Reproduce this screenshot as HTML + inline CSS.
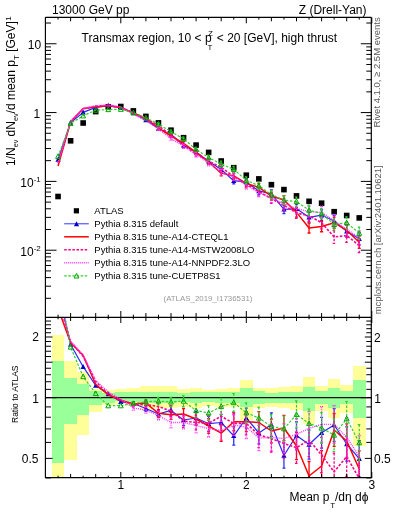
<!DOCTYPE html><html><head><meta charset="utf-8"><style>html,body{margin:0;padding:0;background:#fff;width:393px;height:512px;overflow:hidden}svg{display:block;will-change:transform}text{font-family:"Liberation Sans",sans-serif}</style></head><body>
<svg width="393" height="512" viewBox="0 0 393 512">
<g shape-rendering="crispEdges">
<rect x="51.77" y="335" width="12.55" height="143" fill="#ffff99"/>
<rect x="64.32" y="361.1" width="12.55" height="98.8" fill="#ffff99"/>
<rect x="76.87" y="372" width="12.55" height="62.7" fill="#ffff99"/>
<rect x="89.42" y="388.8" width="12.55" height="22.9" fill="#ffff99"/>
<rect x="101.97" y="390.4" width="12.55" height="14.7" fill="#ffff99"/>
<rect x="114.52" y="388.5" width="12.55" height="15.9" fill="#ffff99"/>
<rect x="127.08" y="387.6" width="12.55" height="18.4" fill="#ffff99"/>
<rect x="139.62" y="386" width="12.55" height="24" fill="#ffff99"/>
<rect x="152.18" y="386.4" width="12.55" height="21.9" fill="#ffff99"/>
<rect x="164.72" y="386" width="12.55" height="22" fill="#ffff99"/>
<rect x="177.27" y="388.7" width="12.55" height="18.7" fill="#ffff99"/>
<rect x="189.82" y="387.8" width="12.55" height="19.7" fill="#ffff99"/>
<rect x="202.38" y="390" width="12.55" height="15.6" fill="#ffff99"/>
<rect x="214.93" y="388.7" width="12.55" height="17.8" fill="#ffff99"/>
<rect x="227.47" y="387.8" width="12.55" height="19.6" fill="#ffff99"/>
<rect x="240.02" y="379.8" width="12.55" height="40.1" fill="#ffff99"/>
<rect x="252.58" y="387.8" width="12.55" height="20.5" fill="#ffff99"/>
<rect x="265.13" y="387.6" width="12.55" height="19.4" fill="#ffff99"/>
<rect x="277.68" y="387" width="12.55" height="21.4" fill="#ffff99"/>
<rect x="290.23" y="386.2" width="12.55" height="23.7" fill="#ffff99"/>
<rect x="302.78" y="377.1" width="12.55" height="47" fill="#ffff99"/>
<rect x="315.33" y="386.2" width="12.55" height="25.1" fill="#ffff99"/>
<rect x="327.88" y="379.4" width="12.55" height="39" fill="#ffff99"/>
<rect x="340.43" y="385.1" width="12.55" height="27.6" fill="#ffff99"/>
<rect x="352.98" y="366.3" width="12.55" height="79.2" fill="#ffff99"/>
<rect x="51.77" y="360.6" width="12.55" height="102" fill="#99ff99"/>
<rect x="64.32" y="377.5" width="12.55" height="46.4" fill="#99ff99"/>
<rect x="76.87" y="383.5" width="12.55" height="31" fill="#99ff99"/>
<rect x="89.42" y="391.4" width="12.55" height="13.2" fill="#99ff99"/>
<rect x="101.97" y="392.9" width="12.55" height="9.7" fill="#99ff99"/>
<rect x="114.52" y="392" width="12.55" height="9" fill="#99ff99"/>
<rect x="127.08" y="392" width="12.55" height="10" fill="#99ff99"/>
<rect x="139.62" y="392.3" width="12.55" height="10.7" fill="#99ff99"/>
<rect x="152.18" y="392.3" width="12.55" height="10.7" fill="#99ff99"/>
<rect x="164.72" y="392.3" width="12.55" height="10.7" fill="#99ff99"/>
<rect x="177.27" y="393.2" width="12.55" height="8.8" fill="#99ff99"/>
<rect x="189.82" y="392.3" width="12.55" height="10.2" fill="#99ff99"/>
<rect x="202.38" y="392.3" width="12.55" height="9.7" fill="#99ff99"/>
<rect x="214.93" y="392.3" width="12.55" height="10.7" fill="#99ff99"/>
<rect x="227.47" y="392.3" width="12.55" height="10.7" fill="#99ff99"/>
<rect x="240.02" y="387.8" width="12.55" height="19.6" fill="#99ff99"/>
<rect x="252.58" y="391.4" width="12.55" height="12.4" fill="#99ff99"/>
<rect x="265.13" y="392.8" width="12.55" height="9.9" fill="#99ff99"/>
<rect x="277.68" y="392.2" width="12.55" height="10.5" fill="#99ff99"/>
<rect x="290.23" y="391.9" width="12.55" height="10.8" fill="#99ff99"/>
<rect x="302.78" y="387" width="12.55" height="24.3" fill="#99ff99"/>
<rect x="315.33" y="391.3" width="12.55" height="12.9" fill="#99ff99"/>
<rect x="327.88" y="387.6" width="12.55" height="20.8" fill="#99ff99"/>
<rect x="340.43" y="390.8" width="12.55" height="13.4" fill="#99ff99"/>
<rect x="352.98" y="380" width="12.55" height="38.4" fill="#99ff99"/>
</g>
<line x1="45.5" y1="397.7" x2="371.8" y2="397.7" stroke="#111" stroke-width="1.3"/>
<clipPath id="cr"><rect x="45.5" y="317.0" width="326.3" height="161.0"/></clipPath>
<clipPath id="cm"><rect x="45.5" y="17.3" width="326.3" height="299.7"/></clipPath>
<g clip-path="url(#cr)">
<path d="M133.35,401.6V405.4M131.85,401.6h3M131.85,405.4h3M145.9,405.7V411.3M144.4,405.7h3M144.4,411.3h3M158.45,410.3V417.7M156.95,410.3h3M156.95,417.7h3M171,405.8V415M169.5,405.8h3M169.5,415h3M183.55,414.5V425.5M182.05,414.5h3M182.05,425.5h3M196.1,411.6V424.4M194.6,411.6h3M194.6,424.4h3M208.65,416.4V431M207.15,416.4h3M207.15,431h3M221.2,414.3V430.7M219.7,414.3h3M219.7,430.7h3M233.75,426.8V445M232.25,426.8h3M232.25,445h3M246.3,408V428M244.8,408h3M244.8,428h3M258.85,422.1V443.9M257.35,422.1h3M257.35,443.9h3M271.4,412.8V436.4M269.9,412.8h3M269.9,436.4h3M283.95,442.8V468.2M282.45,442.8h3M282.45,468.2h3M296.5,421.9V449.1M295,421.9h3M295,449.1h3M309.05,430V459M307.55,430h3M307.55,459h3M321.6,417.4V448.2M320.1,417.4h3M320.1,448.2h3M334.15,408.7V441.3M332.65,408.7h3M332.65,441.3h3M346.7,426.8V461.2M345.2,426.8h3M345.2,461.2h3M359.25,440.6V476.8M357.75,440.6h3M357.75,476.8h3" fill="none" stroke="#2a2aff" stroke-width="1.25"/>
<polyline points="58.05,289.31 70.6,344.5 83.15,366.7 95.7,385.5 108.25,394 120.8,401.8 133.35,403.5 145.9,408.5 158.45,414 171,410.4 183.55,420 196.1,418 208.65,423.7 221.2,422.5 233.75,435.9 246.3,418 258.85,433 271.4,424.6 283.95,455.5 296.5,435.5 309.05,444.5 321.6,432.8 334.15,425 346.7,444 359.25,458.7" fill="none" stroke="#2a2aff" stroke-width="1.25" stroke-linejoin="round"/>
<path d="M55.45,291.51L58.05,286.51L60.65,291.51Z" fill="#0000cc"/>
<path d="M68,346.7L70.6,341.7L73.2,346.7Z" fill="#0000cc"/>
<path d="M80.55,368.9L83.15,363.9L85.75,368.9Z" fill="#0000cc"/>
<path d="M93.1,387.7L95.7,382.7L98.3,387.7Z" fill="#0000cc"/>
<path d="M105.65,396.2L108.25,391.2L110.85,396.2Z" fill="#0000cc"/>
<path d="M118.2,404L120.8,399L123.4,404Z" fill="#0000cc"/>
<path d="M130.75,405.7L133.35,400.7L135.95,405.7Z" fill="#0000cc"/>
<path d="M143.3,410.7L145.9,405.7L148.5,410.7Z" fill="#0000cc"/>
<path d="M155.85,416.2L158.45,411.2L161.05,416.2Z" fill="#0000cc"/>
<path d="M168.4,412.6L171,407.6L173.6,412.6Z" fill="#0000cc"/>
<path d="M180.95,422.2L183.55,417.2L186.15,422.2Z" fill="#0000cc"/>
<path d="M193.5,420.2L196.1,415.2L198.7,420.2Z" fill="#0000cc"/>
<path d="M206.05,425.9L208.65,420.9L211.25,425.9Z" fill="#0000cc"/>
<path d="M218.6,424.7L221.2,419.7L223.8,424.7Z" fill="#0000cc"/>
<path d="M231.15,438.1L233.75,433.1L236.35,438.1Z" fill="#0000cc"/>
<path d="M243.7,420.2L246.3,415.2L248.9,420.2Z" fill="#0000cc"/>
<path d="M256.25,435.2L258.85,430.2L261.45,435.2Z" fill="#0000cc"/>
<path d="M268.8,426.8L271.4,421.8L274,426.8Z" fill="#0000cc"/>
<path d="M281.35,457.7L283.95,452.7L286.55,457.7Z" fill="#0000cc"/>
<path d="M293.9,437.7L296.5,432.7L299.1,437.7Z" fill="#0000cc"/>
<path d="M306.45,446.7L309.05,441.7L311.65,446.7Z" fill="#0000cc"/>
<path d="M319,435L321.6,430L324.2,435Z" fill="#0000cc"/>
<path d="M331.55,427.2L334.15,422.2L336.75,427.2Z" fill="#0000cc"/>
<path d="M344.1,446.2L346.7,441.2L349.3,446.2Z" fill="#0000cc"/>
<path d="M356.65,460.9L359.25,455.9L361.85,460.9Z" fill="#0000cc"/>
<path d="M133.35,402.1V405.9M131.85,402.1h3M131.85,405.9h3M145.9,400.2V405.8M144.4,400.2h3M144.4,405.8h3M158.45,409.6V417M156.95,409.6h3M156.95,417h3M171,410.1V419.3M169.5,410.1h3M169.5,419.3h3M183.55,408.5V419.5M182.05,408.5h3M182.05,419.5h3M196.1,412.6V425.4M194.6,412.6h3M194.6,425.4h3M208.65,418.7V433.3M207.15,418.7h3M207.15,433.3h3M221.2,425V441.4M219.7,425h3M219.7,441.4h3M233.75,412.6V430.8M232.25,412.6h3M232.25,430.8h3M246.3,411.7V431.7M244.8,411.7h3M244.8,431.7h3M258.85,411.6V433.4M257.35,411.6h3M257.35,433.4h3M271.4,419.2V442.8M269.9,419.2h3M269.9,442.8h3M283.95,415.3V440.7M282.45,415.3h3M282.45,440.7h3M296.5,432.4V459.6M295,432.4h3M295,459.6h3M309.05,461.5V490.5M307.55,461.5h3M307.55,490.5h3M321.6,450.6V481.4M320.1,450.6h3M320.1,481.4h3M334.15,413.7V446.3M332.65,413.7h3M332.65,446.3h3M346.7,423.8V458.2M345.2,423.8h3M345.2,458.2h3M359.25,450.9V487.1M357.75,450.9h3M357.75,487.1h3" fill="none" stroke="#ff0000" stroke-width="1.3"/>
<polyline points="58.05,308.35 70.6,342.8 83.15,355.3 95.7,384.5 108.25,394.7 120.8,400.3 133.35,404 145.9,403 158.45,413.3 171,414.7 183.55,414 196.1,419 208.65,426 221.2,433.2 233.75,421.7 246.3,421.7 258.85,422.5 271.4,431 283.95,428 296.5,446 309.05,476 321.6,466 334.15,430 346.7,441 359.25,469" fill="none" stroke="#ff0000" stroke-width="1.5" stroke-linejoin="round"/>
<path d="M133.35,402.62V406.99M131.85,402.62h3M131.85,406.99h3M145.9,401.28V407.72M144.4,401.28h3M144.4,407.72h3M158.45,402.25V410.75M156.95,402.25h3M156.95,410.75h3M171,405.71V416.29M169.5,405.71h3M169.5,416.29h3M183.55,414.68V427.32M182.05,414.68h3M182.05,427.32h3M196.1,415.14V429.86M194.6,415.14h3M194.6,429.86h3M208.65,414.81V431.59M207.15,414.81h3M207.15,431.59h3M221.2,406.87V425.73M219.7,406.87h3M219.7,425.73h3M233.75,412.94V433.86M232.25,412.94h3M232.25,433.86h3M246.3,411.9V434.9M244.8,411.9h3M244.8,434.9h3M258.85,422.46V447.54M257.35,422.46h3M257.35,447.54h3M271.4,424.93V452.07M269.9,424.93h3M269.9,452.07h3M283.95,429V458.21M282.45,429h3M282.45,458.21h3M296.5,432.06V463.34M295,432.06h3M295,463.34h3M309.05,423.32V456.68M307.55,423.32h3M307.55,456.68h3M321.6,437.29V472.71M320.1,437.29h3M320.1,472.71h3M334.15,453.06V490.55M332.65,453.06h3M332.65,490.55h3M346.7,436.72V476.28M345.2,436.72h3M345.2,476.28h3M359.25,457.79V499.42M357.75,457.79h3M357.75,499.42h3" fill="none" stroke="#ff0088" stroke-width="1.3" stroke-dasharray="2.5,1.6"/>
<polyline points="58.05,299.57 70.6,342 83.15,356.5 95.7,381.5 108.25,394 120.8,400.2 133.35,404.8 145.9,404.5 158.45,406.5 171,411 183.55,421 196.1,422.5 208.65,423.2 221.2,416.3 233.75,423.4 246.3,423.4 258.85,435 271.4,438.5 283.95,443.6 296.5,447.7 309.05,440 321.6,455 334.15,471.8 346.7,456.5 359.25,478.6" fill="none" stroke="#ff0088" stroke-width="1.6" stroke-dasharray="2.5,1.6" stroke-linejoin="round"/>
<path d="M133.35,405.81V410.19M131.85,405.81h3M131.85,410.19h3M145.9,406.78V413.22M144.4,406.78h3M144.4,413.22h3M158.45,411.25V419.75M156.95,411.25h3M156.95,419.75h3M171,417.21V427.79M169.5,417.21h3M169.5,427.79h3M183.55,416.18V428.82M182.05,416.18h3M182.05,428.82h3M196.1,418.14V432.86M194.6,418.14h3M194.6,432.86h3M208.65,420.21V437M207.15,420.21h3M207.15,437h3M221.2,421.17V440.03M219.7,421.17h3M219.7,440.03h3M233.75,414.74V435.66M232.25,414.74h3M232.25,435.66h3M246.3,415.5V438.5M244.8,415.5h3M244.8,438.5h3M258.85,425.46V450.54M257.35,425.46h3M257.35,450.54h3M271.4,423.93V451.07M269.9,423.93h3M269.9,451.07h3M283.95,423.89V453.11M282.45,423.89h3M282.45,453.11h3M296.5,418.76V450.04M295,418.76h3M295,450.04h3M309.05,411.62V444.98M307.55,411.62h3M307.55,444.98h3M321.6,406.69V442.11M320.1,406.69h3M320.1,442.11h3M334.15,405.65V443.14M332.65,405.65h3M332.65,443.14h3M346.7,417.62V457.18M345.2,417.62h3M345.2,457.18h3M359.25,435.69V477.31M357.75,435.69h3M357.75,477.31h3" fill="none" stroke="#ff33ff" stroke-width="1.3" stroke-dasharray="1,1"/>
<polyline points="58.05,299.57 70.6,341 83.15,355 95.7,380.5 108.25,392 120.8,399 133.35,408 145.9,410 158.45,415.5 171,422.5 183.55,422.5 196.1,425.5 208.65,428.6 221.2,430.6 233.75,425.2 246.3,427 258.85,438 271.4,437.5 283.95,438.5 296.5,434.4 309.05,428.3 321.6,424.4 334.15,424.4 346.7,437.4 359.25,456.5" fill="none" stroke="#ff33ff" stroke-width="1.4" stroke-dasharray="1,1" stroke-linejoin="round"/>
<path d="M133.35,401.6V405.4M131.85,401.6h3M131.85,405.4h3M145.9,399V404.6M144.4,399h3M144.4,404.6h3M158.45,397.4V404.8M156.95,397.4h3M156.95,404.8h3M171,397.4V406.6M169.5,397.4h3M169.5,406.6h3M183.55,395.6V406.6M182.05,395.6h3M182.05,406.6h3M196.1,404.1V416.9M194.6,404.1h3M194.6,416.9h3M208.65,405.7V420.3M207.15,405.7h3M207.15,420.3h3M221.2,398.3V414.7M219.7,398.3h3M219.7,414.7h3M233.75,393.5V411.7M232.25,393.5h3M232.25,411.7h3M246.3,402.8V422.8M244.8,402.8h3M244.8,422.8h3M258.85,407.1V428.9M257.35,407.1h3M257.35,428.9h3M271.4,414.7V438.3M269.9,414.7h3M269.9,438.3h3M283.95,416V441.4M282.45,416h3M282.45,441.4h3M296.5,400.9V428.1M295,400.9h3M295,428.1h3M309.05,409V438M307.55,409h3M307.55,438h3M321.6,412.6V443.4M320.1,412.6h3M320.1,443.4h3M334.15,418.8V451.4M332.65,418.8h3M332.65,451.4h3M346.7,401.5V435.9M345.2,401.5h3M345.2,435.9h3M359.25,424.6V460.8M357.75,424.6h3M357.75,460.8h3" fill="none" stroke="#33cc33" stroke-width="1.2" stroke-dasharray="2.5,1.6"/>
<polyline points="58.05,279.94 70.6,347 83.15,376.6 95.7,393.5 108.25,405.7 120.8,405.7 133.35,403.5 145.9,401.8 158.45,401.1 171,402 183.55,401.1 196.1,410.5 208.65,413 221.2,406.5 233.75,402.6 246.3,412.8 258.85,418 271.4,426.5 283.95,428.7 296.5,414.5 309.05,423.5 321.6,428 334.15,435.1 346.7,418.7 359.25,442.7" fill="none" stroke="#33cc33" stroke-width="1.2" stroke-dasharray="2.5,1.6" stroke-linejoin="round"/>
<path d="M55.65,282.04L58.05,277.34L60.45,282.04Z" fill="none" stroke="#00aa00" stroke-width="1"/>
<path d="M68.2,349.1L70.6,344.4L73,349.1Z" fill="none" stroke="#00aa00" stroke-width="1"/>
<path d="M80.75,378.7L83.15,374L85.55,378.7Z" fill="none" stroke="#00aa00" stroke-width="1"/>
<path d="M93.3,395.6L95.7,390.9L98.1,395.6Z" fill="none" stroke="#00aa00" stroke-width="1"/>
<path d="M105.85,407.8L108.25,403.1L110.65,407.8Z" fill="none" stroke="#00aa00" stroke-width="1"/>
<path d="M118.4,407.8L120.8,403.1L123.2,407.8Z" fill="none" stroke="#00aa00" stroke-width="1"/>
<path d="M130.95,405.6L133.35,400.9L135.75,405.6Z" fill="none" stroke="#00aa00" stroke-width="1"/>
<path d="M143.5,403.9L145.9,399.2L148.3,403.9Z" fill="none" stroke="#00aa00" stroke-width="1"/>
<path d="M156.05,403.2L158.45,398.5L160.85,403.2Z" fill="none" stroke="#00aa00" stroke-width="1"/>
<path d="M168.6,404.1L171,399.4L173.4,404.1Z" fill="none" stroke="#00aa00" stroke-width="1"/>
<path d="M181.15,403.2L183.55,398.5L185.95,403.2Z" fill="none" stroke="#00aa00" stroke-width="1"/>
<path d="M193.7,412.6L196.1,407.9L198.5,412.6Z" fill="none" stroke="#00aa00" stroke-width="1"/>
<path d="M206.25,415.1L208.65,410.4L211.05,415.1Z" fill="none" stroke="#00aa00" stroke-width="1"/>
<path d="M218.8,408.6L221.2,403.9L223.6,408.6Z" fill="none" stroke="#00aa00" stroke-width="1"/>
<path d="M231.35,404.7L233.75,400L236.15,404.7Z" fill="none" stroke="#00aa00" stroke-width="1"/>
<path d="M243.9,414.9L246.3,410.2L248.7,414.9Z" fill="none" stroke="#00aa00" stroke-width="1"/>
<path d="M256.45,420.1L258.85,415.4L261.25,420.1Z" fill="none" stroke="#00aa00" stroke-width="1"/>
<path d="M269,428.6L271.4,423.9L273.8,428.6Z" fill="none" stroke="#00aa00" stroke-width="1"/>
<path d="M281.55,430.8L283.95,426.1L286.35,430.8Z" fill="none" stroke="#00aa00" stroke-width="1"/>
<path d="M294.1,416.6L296.5,411.9L298.9,416.6Z" fill="none" stroke="#00aa00" stroke-width="1"/>
<path d="M306.65,425.6L309.05,420.9L311.45,425.6Z" fill="none" stroke="#00aa00" stroke-width="1"/>
<path d="M319.2,430.1L321.6,425.4L324,430.1Z" fill="none" stroke="#00aa00" stroke-width="1"/>
<path d="M331.75,437.2L334.15,432.5L336.55,437.2Z" fill="none" stroke="#00aa00" stroke-width="1"/>
<path d="M344.3,420.8L346.7,416.1L349.1,420.8Z" fill="none" stroke="#00aa00" stroke-width="1"/>
<path d="M356.85,444.8L359.25,440.1L361.65,444.8Z" fill="none" stroke="#00aa00" stroke-width="1"/>
</g>
<g clip-path="url(#cm)">
<rect x="55.25" y="193.7" width="5.6" height="5.6" fill="#000"/>
<rect x="67.8" y="138" width="5.6" height="5.6" fill="#000"/>
<rect x="80.35" y="120.2" width="5.6" height="5.6" fill="#000"/>
<rect x="92.9" y="108.8" width="5.6" height="5.6" fill="#000"/>
<rect x="105.45" y="104" width="5.6" height="5.6" fill="#000"/>
<rect x="118" y="103.7" width="5.6" height="5.6" fill="#000"/>
<rect x="130.55" y="108.1" width="5.6" height="5.6" fill="#000"/>
<rect x="143.1" y="113.6" width="5.6" height="5.6" fill="#000"/>
<rect x="155.65" y="120.1" width="5.6" height="5.6" fill="#000"/>
<rect x="168.2" y="127.4" width="5.6" height="5.6" fill="#000"/>
<rect x="180.75" y="134.9" width="5.6" height="5.6" fill="#000"/>
<rect x="193.3" y="142.3" width="5.6" height="5.6" fill="#000"/>
<rect x="205.85" y="149.6" width="5.6" height="5.6" fill="#000"/>
<rect x="218.4" y="158.2" width="5.6" height="5.6" fill="#000"/>
<rect x="230.95" y="164.9" width="5.6" height="5.6" fill="#000"/>
<rect x="243.5" y="172.4" width="5.6" height="5.6" fill="#000"/>
<rect x="256.05" y="176.1" width="5.6" height="5.6" fill="#000"/>
<rect x="268.6" y="181.9" width="5.6" height="5.6" fill="#000"/>
<rect x="281.15" y="186.8" width="5.6" height="5.6" fill="#000"/>
<rect x="293.7" y="193.1" width="5.6" height="5.6" fill="#000"/>
<rect x="306.25" y="198.5" width="5.6" height="5.6" fill="#000"/>
<rect x="318.8" y="200.4" width="5.6" height="5.6" fill="#000"/>
<rect x="331.35" y="208.9" width="5.6" height="5.6" fill="#000"/>
<rect x="343.9" y="212.7" width="5.6" height="5.6" fill="#000"/>
<rect x="356.45" y="215.1" width="5.6" height="5.6" fill="#000"/>
<path d="M158.45,127.2V129.73M156.95,127.2h3M156.95,129.73h3M171,132.97V136.11M169.5,132.97h3M169.5,136.11h3M183.55,143.44V147.19M182.05,143.44h3M182.05,147.19h3M196.1,149.85V154.21M194.6,149.85h3M194.6,154.21h3M208.65,158.78V163.77M207.15,158.78h3M207.15,163.77h3M221.2,166.67V172.26M219.7,166.67h3M219.7,172.26h3M233.75,177.63V183.85M232.25,177.63h3M232.25,183.85h3M246.3,178.72V185.54M244.8,178.72h3M244.8,185.54h3M258.85,187.23V194.67M257.35,187.23h3M257.35,194.67h3M271.4,189.86V197.91M269.9,189.86h3M269.9,197.91h3M283.95,205V213.67M282.45,205h3M282.45,213.67h3M296.5,204.16V213.45M295,204.16h3M295,213.45h3M309.05,212.33V222.22M307.55,212.33h3M307.55,222.22h3M321.6,209.93V220.44M320.1,209.93h3M320.1,220.44h3M334.15,215.46V226.58M332.65,215.46h3M332.65,226.58h3M346.7,225.44V237.18M345.2,225.44h3M345.2,237.18h3M359.25,232.55V244.9M357.75,232.55h3M357.75,244.9h3" fill="none" stroke="#2a2aff" stroke-width="1.25"/>
<polyline points="58.05,159.5 70.6,122.64 83.15,112.42 95.7,107.44 108.25,105.54 120.8,107.9 133.35,112.88 145.9,120.09 158.45,128.46 171,134.54 183.55,145.31 196.1,152.03 208.65,161.28 221.2,169.47 233.75,180.74 246.3,182.13 258.85,190.95 271.4,193.88 283.95,209.33 296.5,208.8 309.05,217.28 321.6,215.18 334.15,221.02 346.7,231.31 359.25,238.72" fill="none" stroke="#2a2aff" stroke-width="1.25" stroke-linejoin="round"/>
<path d="M55.45,161.7L58.05,156.7L60.65,161.7Z" fill="#0000cc"/>
<path d="M68,124.84L70.6,119.84L73.2,124.84Z" fill="#0000cc"/>
<path d="M80.55,114.62L83.15,109.62L85.75,114.62Z" fill="#0000cc"/>
<path d="M93.1,109.64L95.7,104.64L98.3,109.64Z" fill="#0000cc"/>
<path d="M105.65,107.74L108.25,102.74L110.85,107.74Z" fill="#0000cc"/>
<path d="M118.2,110.1L120.8,105.1L123.4,110.1Z" fill="#0000cc"/>
<path d="M130.75,115.08L133.35,110.08L135.95,115.08Z" fill="#0000cc"/>
<path d="M143.3,122.29L145.9,117.29L148.5,122.29Z" fill="#0000cc"/>
<path d="M155.85,130.66L158.45,125.66L161.05,130.66Z" fill="#0000cc"/>
<path d="M168.4,136.74L171,131.74L173.6,136.74Z" fill="#0000cc"/>
<path d="M180.95,147.51L183.55,142.51L186.15,147.51Z" fill="#0000cc"/>
<path d="M193.5,154.23L196.1,149.23L198.7,154.23Z" fill="#0000cc"/>
<path d="M206.05,163.48L208.65,158.48L211.25,163.48Z" fill="#0000cc"/>
<path d="M218.6,171.67L221.2,166.67L223.8,171.67Z" fill="#0000cc"/>
<path d="M231.15,182.94L233.75,177.94L236.35,182.94Z" fill="#0000cc"/>
<path d="M243.7,184.33L246.3,179.33L248.9,184.33Z" fill="#0000cc"/>
<path d="M256.25,193.15L258.85,188.15L261.45,193.15Z" fill="#0000cc"/>
<path d="M268.8,196.08L271.4,191.08L274,196.08Z" fill="#0000cc"/>
<path d="M281.35,211.53L283.95,206.53L286.55,211.53Z" fill="#0000cc"/>
<path d="M293.9,211L296.5,206L299.1,211Z" fill="#0000cc"/>
<path d="M306.45,219.48L309.05,214.48L311.65,219.48Z" fill="#0000cc"/>
<path d="M319,217.38L321.6,212.38L324.2,217.38Z" fill="#0000cc"/>
<path d="M331.55,223.22L334.15,218.22L336.75,223.22Z" fill="#0000cc"/>
<path d="M344.1,233.51L346.7,228.51L349.3,233.51Z" fill="#0000cc"/>
<path d="M356.65,240.92L359.25,235.92L361.85,240.92Z" fill="#0000cc"/>
<path d="M158.45,126.96V129.49M156.95,126.96h3M156.95,129.49h3M171,134.43V137.57M169.5,134.43h3M169.5,137.57h3M183.55,141.39V145.14M182.05,141.39h3M182.05,145.14h3M196.1,150.19V154.56M194.6,150.19h3M194.6,154.56h3M208.65,159.57V164.55M207.15,159.57h3M207.15,164.55h3M221.2,170.32V175.92M219.7,170.32h3M219.7,175.92h3M233.75,172.79V179M232.25,172.79h3M232.25,179h3M246.3,179.98V186.81M244.8,179.98h3M244.8,186.81h3M258.85,183.65V191.09M257.35,183.65h3M257.35,191.09h3M271.4,192.04V200.09M269.9,192.04h3M269.9,200.09h3M283.95,195.61V204.28M282.45,195.61h3M282.45,204.28h3M296.5,207.75V217.03M295,207.75h3M295,217.03h3M309.05,223.08V232.98M307.55,223.08h3M307.55,232.98h3M321.6,221.26V231.77M320.1,221.26h3M320.1,231.77h3M334.15,217.16V228.29M332.65,217.16h3M332.65,228.29h3M346.7,224.41V236.15M345.2,224.41h3M345.2,236.15h3M359.25,236.06V248.42M357.75,236.06h3M357.75,248.42h3" fill="none" stroke="#ff0000" stroke-width="1.3"/>
<polyline points="58.05,166 70.6,122.06 83.15,108.53 95.7,107.09 108.25,105.78 120.8,107.39 133.35,113.05 145.9,118.21 158.45,128.23 171,136 183.55,143.26 196.1,152.37 208.65,162.06 221.2,173.12 233.75,175.89 246.3,183.39 258.85,187.37 271.4,196.07 283.95,199.94 296.5,212.39 309.05,228.03 321.6,226.52 334.15,222.73 346.7,230.28 359.25,242.24" fill="none" stroke="#ff0000" stroke-width="1.5" stroke-linejoin="round"/>
<path d="M158.45,124.45V127.36M156.95,124.45h3M156.95,127.36h3M171,132.93V136.55M169.5,132.93h3M169.5,136.55h3M183.55,143.5V147.81M182.05,143.5h3M182.05,147.81h3M196.1,151.05V156.08M194.6,151.05h3M194.6,156.08h3M208.65,158.24V163.97M207.15,158.24h3M207.15,163.97h3M221.2,164.13V170.57M219.7,164.13h3M219.7,170.57h3M233.75,172.9V180.04M232.25,172.9h3M232.25,180.04h3M246.3,180.05V187.9M244.8,180.05h3M244.8,187.9h3M258.85,187.35V195.91M257.35,187.35h3M257.35,195.91h3M271.4,194V203.26M269.9,194h3M269.9,203.26h3M283.95,200.28V210.25M282.45,200.28h3M282.45,210.25h3M296.5,207.63V218.31M295,207.63h3M295,218.31h3M309.05,210.05V221.43M307.55,210.05h3M307.55,221.43h3M321.6,216.72V228.8M320.1,216.72h3M320.1,228.8h3M334.15,230.6V243.39M332.65,230.6h3M332.65,243.39h3M346.7,228.82V242.32M345.2,228.82h3M345.2,242.32h3M359.25,238.41V252.62M357.75,238.41h3M357.75,252.62h3" fill="none" stroke="#ff0088" stroke-width="1.3" stroke-dasharray="2.5,1.6"/>
<polyline points="58.05,163 70.6,121.79 83.15,108.94 95.7,106.07 108.25,105.54 120.8,107.35 133.35,113.32 145.9,118.72 158.45,125.9 171,134.74 183.55,145.65 196.1,153.57 208.65,161.1 221.2,167.35 233.75,176.47 246.3,183.97 258.85,191.63 271.4,198.63 283.95,205.27 296.5,212.97 309.05,215.74 321.6,222.76 334.15,237 346.7,235.57 359.25,245.52" fill="none" stroke="#ff0088" stroke-width="1.6" stroke-dasharray="2.5,1.6" stroke-linejoin="round"/>
<path d="M158.45,127.52V130.43M156.95,127.52h3M156.95,130.43h3M171,136.86V140.47M169.5,136.86h3M169.5,140.47h3M183.55,144.01V148.32M182.05,144.01h3M182.05,148.32h3M196.1,152.08V157.1M194.6,152.08h3M194.6,157.1h3M208.65,160.08V165.81M207.15,160.08h3M207.15,165.81h3M221.2,169.01V175.45M219.7,169.01h3M219.7,175.45h3M233.75,173.52V180.66M232.25,173.52h3M232.25,180.66h3M246.3,181.28V189.13M244.8,181.28h3M244.8,189.13h3M258.85,188.38V196.94M257.35,188.38h3M257.35,196.94h3M271.4,193.66V202.92M269.9,193.66h3M269.9,202.92h3M283.95,198.54V208.51M282.45,198.54h3M282.45,208.51h3M296.5,203.09V213.77M295,203.09h3M295,213.77h3M309.05,206.05V217.44M307.55,206.05h3M307.55,217.44h3M321.6,206.27V218.36M320.1,206.27h3M320.1,218.36h3M334.15,214.42V227.21M332.65,214.42h3M332.65,227.21h3M346.7,222.3V235.8M345.2,222.3h3M345.2,235.8h3M359.25,230.87V245.08M357.75,230.87h3M357.75,245.08h3" fill="none" stroke="#ff33ff" stroke-width="1.3" stroke-dasharray="1,1"/>
<polyline points="58.05,163 70.6,121.44 83.15,108.42 95.7,105.73 108.25,104.85 120.8,106.94 133.35,114.42 145.9,120.6 158.45,128.98 171,138.67 183.55,146.17 196.1,154.59 208.65,162.95 221.2,172.23 233.75,177.09 246.3,185.2 258.85,192.66 271.4,198.29 283.95,203.53 296.5,208.43 309.05,211.75 321.6,212.31 334.15,220.81 346.7,229.05 359.25,237.97" fill="none" stroke="#ff33ff" stroke-width="1.4" stroke-dasharray="1,1" stroke-linejoin="round"/>
<path d="M158.45,122.8V125.32M156.95,122.8h3M156.95,125.32h3M171,130.1V133.24M169.5,130.1h3M169.5,133.24h3M183.55,136.98V140.74M182.05,136.98h3M182.05,140.74h3M196.1,147.29V151.65M194.6,147.29h3M194.6,151.65h3M208.65,155.13V160.11M207.15,155.13h3M207.15,160.11h3M221.2,161.21V166.8M219.7,161.21h3M219.7,166.8h3M233.75,166.27V172.48M232.25,166.27h3M232.25,172.48h3M246.3,176.94V183.77M244.8,176.94h3M244.8,183.77h3M258.85,182.11V189.55M257.35,182.11h3M257.35,189.55h3M271.4,190.5V198.56M269.9,190.5h3M269.9,198.56h3M283.95,195.85V204.52M282.45,195.85h3M282.45,204.52h3M296.5,196.99V206.28M295,196.99h3M295,206.28h3M309.05,205.16V215.06M307.55,205.16h3M307.55,215.06h3M321.6,208.29V218.8M320.1,208.29h3M320.1,218.8h3M334.15,218.9V230.03M332.65,218.9h3M332.65,230.03h3M346.7,216.8V228.54M345.2,216.8h3M345.2,228.54h3M359.25,227.08V239.44M357.75,227.08h3M357.75,239.44h3" fill="none" stroke="#33cc33" stroke-width="1.2" stroke-dasharray="2.5,1.6"/>
<polyline points="58.05,156.3 70.6,123.49 83.15,115.8 95.7,110.17 108.25,109.53 120.8,109.23 133.35,112.88 145.9,117.8 158.45,124.06 171,131.67 183.55,138.86 196.1,149.47 208.65,157.62 221.2,164 233.75,169.37 246.3,180.35 258.85,185.83 271.4,194.53 283.95,200.18 296.5,201.64 309.05,210.11 321.6,213.54 334.15,224.47 346.7,222.67 359.25,233.26" fill="none" stroke="#33cc33" stroke-width="1.2" stroke-dasharray="2.5,1.6" stroke-linejoin="round"/>
<path d="M55.65,158.4L58.05,153.7L60.45,158.4Z" fill="none" stroke="#00aa00" stroke-width="1"/>
<path d="M68.2,125.59L70.6,120.89L73,125.59Z" fill="none" stroke="#00aa00" stroke-width="1"/>
<path d="M80.75,117.9L83.15,113.2L85.55,117.9Z" fill="none" stroke="#00aa00" stroke-width="1"/>
<path d="M93.3,112.27L95.7,107.57L98.1,112.27Z" fill="none" stroke="#00aa00" stroke-width="1"/>
<path d="M105.85,111.63L108.25,106.93L110.65,111.63Z" fill="none" stroke="#00aa00" stroke-width="1"/>
<path d="M118.4,111.33L120.8,106.63L123.2,111.33Z" fill="none" stroke="#00aa00" stroke-width="1"/>
<path d="M130.95,114.98L133.35,110.28L135.75,114.98Z" fill="none" stroke="#00aa00" stroke-width="1"/>
<path d="M143.5,119.9L145.9,115.2L148.3,119.9Z" fill="none" stroke="#00aa00" stroke-width="1"/>
<path d="M156.05,126.16L158.45,121.46L160.85,126.16Z" fill="none" stroke="#00aa00" stroke-width="1"/>
<path d="M168.6,133.77L171,129.07L173.4,133.77Z" fill="none" stroke="#00aa00" stroke-width="1"/>
<path d="M181.15,140.96L183.55,136.26L185.95,140.96Z" fill="none" stroke="#00aa00" stroke-width="1"/>
<path d="M193.7,151.57L196.1,146.87L198.5,151.57Z" fill="none" stroke="#00aa00" stroke-width="1"/>
<path d="M206.25,159.72L208.65,155.02L211.05,159.72Z" fill="none" stroke="#00aa00" stroke-width="1"/>
<path d="M218.8,166.1L221.2,161.4L223.6,166.1Z" fill="none" stroke="#00aa00" stroke-width="1"/>
<path d="M231.35,171.47L233.75,166.77L236.15,171.47Z" fill="none" stroke="#00aa00" stroke-width="1"/>
<path d="M243.9,182.45L246.3,177.75L248.7,182.45Z" fill="none" stroke="#00aa00" stroke-width="1"/>
<path d="M256.45,187.93L258.85,183.23L261.25,187.93Z" fill="none" stroke="#00aa00" stroke-width="1"/>
<path d="M269,196.63L271.4,191.93L273.8,196.63Z" fill="none" stroke="#00aa00" stroke-width="1"/>
<path d="M281.55,202.28L283.95,197.58L286.35,202.28Z" fill="none" stroke="#00aa00" stroke-width="1"/>
<path d="M294.1,203.74L296.5,199.04L298.9,203.74Z" fill="none" stroke="#00aa00" stroke-width="1"/>
<path d="M306.65,212.21L309.05,207.51L311.45,212.21Z" fill="none" stroke="#00aa00" stroke-width="1"/>
<path d="M319.2,215.64L321.6,210.94L324,215.64Z" fill="none" stroke="#00aa00" stroke-width="1"/>
<path d="M331.75,226.57L334.15,221.87L336.55,226.57Z" fill="none" stroke="#00aa00" stroke-width="1"/>
<path d="M344.3,224.77L346.7,220.07L349.1,224.77Z" fill="none" stroke="#00aa00" stroke-width="1"/>
<path d="M356.85,235.36L359.25,230.66L361.65,235.36Z" fill="none" stroke="#00aa00" stroke-width="1"/>
</g>
<g fill="none" stroke="#000" stroke-width="1.15">
<path d="M45.4,17.4H371.3M45.4,317.4H371.3M45.4,477.6H371.3M45.4,17.4V477.6M371.3,17.4V477.6"/>
</g>
<path d="M45.5,17.3v4M45.5,317v-4M45.5,317v4M45.5,478v-4M58.05,17.3v2.3M58.05,317v-2.3M58.05,317v2.3M58.05,478v-2.3M70.6,17.3v4M70.6,317v-4M70.6,317v4M70.6,478v-4M83.15,17.3v2.3M83.15,317v-2.3M83.15,317v2.3M83.15,478v-2.3M95.7,17.3v4M95.7,317v-4M95.7,317v4M95.7,478v-4M108.25,17.3v2.3M108.25,317v-2.3M108.25,317v2.3M108.25,478v-2.3M120.8,17.3v6M120.8,317v-6M120.8,317v6M120.8,478v-6M133.35,17.3v2.3M133.35,317v-2.3M133.35,317v2.3M133.35,478v-2.3M145.9,17.3v4M145.9,317v-4M145.9,317v4M145.9,478v-4M158.45,17.3v2.3M158.45,317v-2.3M158.45,317v2.3M158.45,478v-2.3M171,17.3v4M171,317v-4M171,317v4M171,478v-4M183.55,17.3v2.3M183.55,317v-2.3M183.55,317v2.3M183.55,478v-2.3M196.1,17.3v4M196.1,317v-4M196.1,317v4M196.1,478v-4M208.65,17.3v2.3M208.65,317v-2.3M208.65,317v2.3M208.65,478v-2.3M221.2,17.3v4M221.2,317v-4M221.2,317v4M221.2,478v-4M233.75,17.3v2.3M233.75,317v-2.3M233.75,317v2.3M233.75,478v-2.3M246.3,17.3v6M246.3,317v-6M246.3,317v6M246.3,478v-6M258.85,17.3v2.3M258.85,317v-2.3M258.85,317v2.3M258.85,478v-2.3M271.4,17.3v4M271.4,317v-4M271.4,317v4M271.4,478v-4M283.95,17.3v2.3M283.95,317v-2.3M283.95,317v2.3M283.95,478v-2.3M296.5,17.3v4M296.5,317v-4M296.5,317v4M296.5,478v-4M309.05,17.3v2.3M309.05,317v-2.3M309.05,317v2.3M309.05,478v-2.3M321.6,17.3v4M321.6,317v-4M321.6,317v4M321.6,478v-4M334.15,17.3v2.3M334.15,317v-2.3M334.15,317v2.3M334.15,478v-2.3M346.7,17.3v4M346.7,317v-4M346.7,317v4M346.7,478v-4M359.25,17.3v2.3M359.25,317v-2.3M359.25,317v2.3M359.25,478v-2.3M371.8,17.3v6M371.8,317v-6M371.8,317v6M371.8,478v-6M45.5,298.31h5.5M371.8,298.31h-5.5M45.5,286.19h5.5M371.8,286.19h-5.5M45.5,277.6h5.5M371.8,277.6h-5.5M45.5,270.93h5.5M371.8,270.93h-5.5M45.5,265.48h5.5M371.8,265.48h-5.5M45.5,260.87h5.5M371.8,260.87h-5.5M45.5,256.88h5.5M371.8,256.88h-5.5M45.5,253.36h5.5M371.8,253.36h-5.5M45.5,250.21h11M371.8,250.21h-11M45.5,229.49h5.5M371.8,229.49h-5.5M45.5,217.37h5.5M371.8,217.37h-5.5M45.5,208.78h5.5M371.8,208.78h-5.5M45.5,202.11h5.5M371.8,202.11h-5.5M45.5,196.66h5.5M371.8,196.66h-5.5M45.5,192.05h5.5M371.8,192.05h-5.5M45.5,188.06h5.5M371.8,188.06h-5.5M45.5,184.54h5.5M371.8,184.54h-5.5M45.5,181.39h11M371.8,181.39h-11M45.5,160.67h5.5M371.8,160.67h-5.5M45.5,148.55h5.5M371.8,148.55h-5.5M45.5,139.96h5.5M371.8,139.96h-5.5M45.5,133.29h5.5M371.8,133.29h-5.5M45.5,127.84h5.5M371.8,127.84h-5.5M45.5,123.23h5.5M371.8,123.23h-5.5M45.5,119.24h5.5M371.8,119.24h-5.5M45.5,115.72h5.5M371.8,115.72h-5.5M45.5,112.57h11M371.8,112.57h-11M45.5,91.85h5.5M371.8,91.85h-5.5M45.5,79.73h5.5M371.8,79.73h-5.5M45.5,71.14h5.5M371.8,71.14h-5.5M45.5,64.47h5.5M371.8,64.47h-5.5M45.5,59.02h5.5M371.8,59.02h-5.5M45.5,54.41h5.5M371.8,54.41h-5.5M45.5,50.42h5.5M371.8,50.42h-5.5M45.5,46.9h5.5M371.8,46.9h-5.5M45.5,43.75h11M371.8,43.75h-11M45.5,23.03h5.5M371.8,23.03h-5.5M45.5,477.92h5.5M371.8,477.92h-5.5M45.5,458.39h7M371.8,458.39h-7M45.5,442.42h5.5M371.8,442.42h-5.5M45.5,428.93h5.5M371.8,428.93h-5.5M45.5,417.24h5.5M371.8,417.24h-5.5M45.5,406.92h5.5M371.8,406.92h-5.5M45.5,397.7h11M371.8,397.7h-11M45.5,389.36h5.5M371.8,389.36h-5.5M45.5,381.74h5.5M371.8,381.74h-5.5M45.5,374.73h5.5M371.8,374.73h-5.5M45.5,368.24h5.5M371.8,368.24h-5.5M45.5,362.2h7M371.8,362.2h-7M45.5,356.55h5.5M371.8,356.55h-5.5M45.5,351.24h5.5M371.8,351.24h-5.5M45.5,346.24h5.5M371.8,346.24h-5.5M45.5,341.5h5.5M371.8,341.5h-5.5M45.5,337.01h7M371.8,337.01h-7M45.5,332.74h5.5M371.8,332.74h-5.5M45.5,328.67h5.5M371.8,328.67h-5.5M45.5,324.78h5.5M371.8,324.78h-5.5M45.5,321.05h5.5M371.8,321.05h-5.5M45.5,317.48h5.5M371.8,317.48h-5.5" stroke="#000" stroke-width="1" fill="none"/>
<text x="52" y="14" font-size="12">13000 GeV pp</text>
<text x="366.5" y="14" font-size="12" text-anchor="end">Z (Drell-Yan)</text>
<text x="81.6" y="42" font-size="12">Transmax region, 10 &lt; p</text>
<text x="208.1" y="36" font-size="8">Z</text>
<text x="207.5" y="49.5" font-size="8">T</text>
<text x="216.8" y="42" font-size="12">&lt; 20 [GeV], high thrust</text>
<text x="41.2" y="48.6" font-size="12" text-anchor="end">10</text>
<text x="40.3" y="117.5" font-size="12" text-anchor="end">1</text>
<text x="40.8" y="186.8" font-size="12" text-anchor="end">10<tspan font-size="8" dy="-5">-1</tspan></text>
<text x="40.8" y="256" font-size="12" text-anchor="end">10<tspan font-size="8" dy="-5">-2</tspan></text>
<text x="39" y="341.3" font-size="12" text-anchor="end">2</text>
<text x="39" y="402.5" font-size="12" text-anchor="end">1</text>
<text x="38.5" y="463" font-size="12" text-anchor="end">0.5</text>
<text x="373.9" y="341.7" font-size="12">2</text>
<text x="374.2" y="403.3" font-size="12">1</text>
<text x="374" y="463" font-size="12">0.5</text>
<text x="120.8" y="489" font-size="12" text-anchor="middle">1</text>
<text x="246.3" y="489" font-size="12" text-anchor="middle">2</text>
<text x="371.8" y="489" font-size="12" text-anchor="middle">3</text>
<text x="289.5" y="500.6" font-size="12">Mean p</text>
<text x="330.3" y="508" font-size="8">T</text>
<text x="335" y="500.6" font-size="12">/dη dϕ</text>
<text transform="translate(15,166) rotate(-90)" font-size="12">1/N<tspan font-size="7.2" dy="3">ev</tspan><tspan dy="-3"> dN</tspan><tspan font-size="7.2" dy="3">ev</tspan><tspan dy="-3">/d mean p</tspan><tspan font-size="8" dy="4">T</tspan><tspan dy="-4"> [GeV]</tspan><tspan font-size="8" dy="-4.5" dx="0.3">1</tspan></text>
<text transform="translate(18.2,423) rotate(-90)" font-size="8.5">Ratio to ATLAS</text>
<text transform="translate(380.3,127.6) rotate(-90)" font-size="9.5" fill="#5a5a5a">Rivet 4.1.0, ≥ 2.5M events</text>
<text transform="translate(380.8,314.3) rotate(-90)" font-size="9.5" fill="#5a5a5a">mcplots.cern.ch [arXiv:2401.10621]</text>
<rect x="73.8" y="208.2" width="5.2" height="5.2" fill="#000"/>
<text x="94.3" y="214" font-size="9.5">ATLAS</text>
<line x1="64.2" y1="223.8" x2="88.8" y2="223.8" stroke="#3333ff" stroke-width="1.0"/>
<path d="M73.9,226.2L76.5,221.2L79.1,226.2Z" fill="#0000cc"/>
<text x="94.3" y="227.2" font-size="9.5">Pythia 8.315 default</text>
<line x1="64.2" y1="236.8" x2="88.8" y2="236.8" stroke="#ff0000" stroke-width="1.5"/>
<text x="94.3" y="240.2" font-size="9.5">Pythia 8.315 tune-A14-CTEQL1</text>
<line x1="64.2" y1="249.8" x2="88.8" y2="249.8" stroke="#ff0088" stroke-width="1.6" stroke-dasharray="2.5,1.6"/>
<text x="94.3" y="253.2" font-size="9.5">Pythia 8.315 tune-A14-MSTW2008LO</text>
<line x1="64.2" y1="262.8" x2="88.8" y2="262.8" stroke="#ff33ff" stroke-width="1.4" stroke-dasharray="1,1"/>
<text x="94.3" y="266.2" font-size="9.5">Pythia 8.315 tune-A14-NNPDF2.3LO</text>
<line x1="64.2" y1="275.8" x2="88.8" y2="275.8" stroke="#33cc33" stroke-width="1.2" stroke-dasharray="2.5,1.6"/>
<path d="M74.1,278L76.5,273.3L78.9,278Z" fill="none" stroke="#00aa00" stroke-width="1"/>
<text x="94.3" y="279.2" font-size="9.5">Pythia 8.315 tune-CUETP8S1</text>
<text x="163.5" y="301.3" font-size="7.9" fill="#999999">(ATLAS_2019_I1736531)</text>
</svg></body></html>
